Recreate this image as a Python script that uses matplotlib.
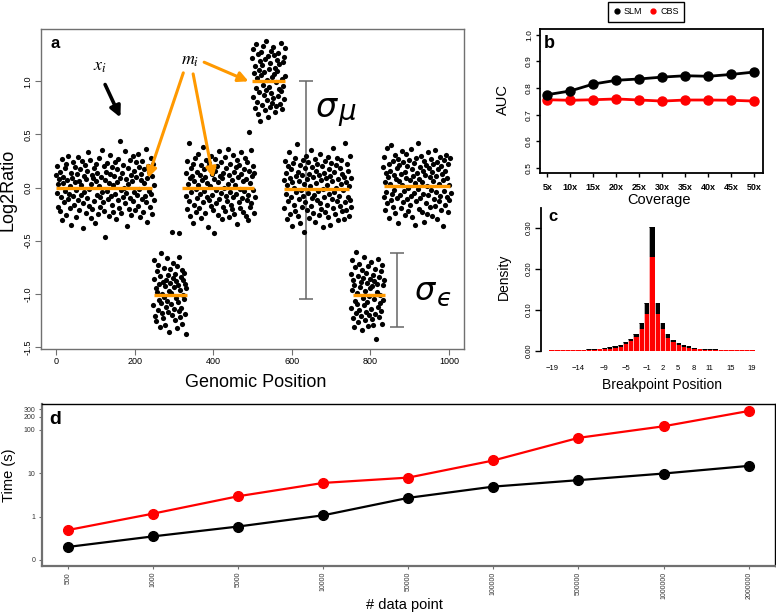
import numpy as np
import matplotlib.pyplot as plt
from matplotlib.lines import Line2D

plt.rcParams['font.family'] = ['Liberation Sans', 'DejaVu Sans']
plt.rcParams['axes.unicode_minus'] = False

# ---- panel a: segmented log2 ratios (deviations in 1/100 around segment mean)
seg_x_start = [0, 248, 330, 500, 580, 750, 832]
seg_x_end = [250, 332, 506, 583, 752, 834, 1004]
seg_mean = [0.0, -1.01, 0.0, 1.0, -0.01, -1.01, 0.01]
line_start = [0, 250, 320, 500, 580, 756, 834]
line_end = [244, 333, 505, 584, 745, 836, 1002]

seg1_dev = [12, -5, 20, -18, 3, 8, -22, 15, -9, 27, -31, 4, 10, -14, 18, -3, 22, -26, 7, -11,
            30, -6, 1, -19, 14, -35, 9, 24, -8, -16, 5, 19, -2, -28, 13, 29, -12, 6, -21, 17,
            -7, 2, 25, -15, -38, 11, -4, 21, -24, 8, 16, -10, 33, -1, -17, 26, -29, 3, 12, -20,
            9, -13, 18, -33, 6, 22, -7, 14, -25, 1, 28, -9, -18, 10, 35, -4, -14, 20, -22, 7,
            -47, 15, -3, 23, -11, 4, -27, 13, 31, -8, -16, 19, 2, -23, 11, 24, -6, -30, 17, 5,
            -12, 27, -19, 9, 44, -2, -24, 14, -9, 21, 0, -15, 34, -5, 8, -36, 18, 3, -20, 26,
            -10, 12, -26, 6, 30, -13, 16, -4, -21, 24, 10, -7, 32, -17, -1, 19, -28, 13, 7, -11,
            25, -23, 4, 17, -8, 36, -14, 9, -32, 20, -3, 15, -18, 28, -6, 11, -25, 22, 2, -12]
seg2_dev = [-10, 15, 33, -20, 6, -25, 22, 3, -14, 28, -5, 10, -30, 18, -8, 39, -17, 1, 12, -22,
            25, -2, 8, -28, 14, -11, 35, -6, 19, -16, 4, -35, 11, 24, -9, 2, -19, 16, 30, -13,
            7, -24, 20, -3, 13, -31, 27, -7, 9, -15, 36, -21, 5, 17, -12, 23, -27, 0, 14, -4,
            21, -18, 10, -37, 6]
seg3_dev = [14, -8, 25, -20, 3, 42, -13, 9, -27, 18, -4, 11, -33, 22, 6, -16, 28, -1, -23, 15,
            -10, 32, 2, -19, 12, -6, 21, -29, 7, 38, -14, 17, -3, -24, 10, 26, -9, 4, -37, 19,
            -12, 23, 1, -17, 30, -7, 13, -21, 8, -43, 16, 27, -2, -15, 20, -26, 5, 34, -11, 11,
            -5, 24, -30, 9, -18, 14, 0, -22, 29, -8, 18, -13, 3, 36, -28, 12, -4, 22, -16, 7,
            -20, 31, -9, 15, -25, 2, 19, -6, -34, 26, 10, -14, 21, -1, -19, 13, 33, -10, 6, -23,
            17, -3, 28, -27, 8, -12, 24, -7, -31, 16, 4, -18, 35, -15, 11, -2, 20, -24, 14, -9]
seg4_dev = [22, -15, 30, 8, -25, 14, -6, 35, -19, 3, 26, -31, 11, -10, 19, -37, 6, 28, -22, 15,
            -3, 33, -13, 9, -27, 21, -8, 38, 1, -18, 24, -34, 12, -5, 17, -24, 29, -11, 4, -20,
            32, -16, 7, 25, -29, 13, -1, -23, 20, 10, -14, 27, -7, 16, -21, 36, -9, 2, -26, 18,
            -4, 23, -17, 5, 31]
seg5_dev = [8, -18, 26, -5, 15, -29, 3, 21, -12, 34, -24, 10, -8, 18, -35, 6, 24, -15, 1, 29,
            -21, 12, -3, 42, -26, 16, -10, 7, -32, 22, -1, 13, -17, 27, -7, 4, -41, 19, -13, 31,
            -20, 9, 25, -4, -28, 14, 2, -16, 36, -9, 20, -23, 11, -6, 28, -31, 5, 17, -11, 23,
            -2, -25, 13, 33, -14, 8, -19, 21, 0, -36, 15, -8, 26, -22, 10, 3, -15, 30, -27, 18,
            -5, 12, -34, 24, -10, 7, -18, 38, -3, 16, -24, 1, 22, -12, 29, -30, 9, -7, 19, -16,
            4, 27, -21, 14, -1, -29, 11, 43, -13, 6, -20, 23, -8, 17, -26, 2, 31, -11, 10, -17]
seg6_dev = [20, -12, 33, 5, -22, 14, -30, 9, -6, 26, -17, 40, -9, 2, -26, 18, 29, -14, 7, -20,
            12, -33, 23, -3, 16, -10, 36, -24, 4, -16, 21, -7, 11, -29, 27, -1, -19, 15, 6, -13,
            31, -23, 8, -28, 19, -4, 13, -18, 24, -42, 10, 3, -11, 34, -21, 17, -8, 0, 22, -15,
            28, -27, 9, -5, 14]
seg7_dev = [18, -10, 28, 4, -22, 13, -5, 36, -16, 9, 21, -30, 2, 15, -13, 39, -7, 24, -19, 11,
            -3, 30, -25, 7, 17, -11, 26, -34, 5, 20, -8, 12, -20, 33, 1, -15, 23, -4, 14, -27,
            8, 31, -12, 19, -1, -23, 25, 6, -17, 35, -9, 16, -29, 10, 22, -6, 3, -36, 27, -14,
            13, -2, 41, -21, 7, 18, -11, 29, -24, 4, 15, -7, 24, -33, 11, -16, 20, 0, -26, 32,
            -8, 17, 9, -19, 26, -3, 14, -28, 21, 5, -12, 34, -18, 10, -5, 23, -31, 16, 2, -14,
            28, -9, 19, -22, 12, 6, -37, 25, -4, 15, -17, 30, -10, 8, -24, 21, 1, -13, 27, -6]
extra_x = [295, 314, 490]
extra_y = [-0.42, -0.43, 0.52]

# ---- panel b: AUC vs coverage
coverage = ['5x', '10x', '15x', '20x', '25x', '30x', '35x', '40x', '45x', '50x']
auc_slm = [0.775, 0.789, 0.815, 0.829, 0.834, 0.841, 0.846, 0.844, 0.851, 0.860]
auc_cbs = [0.756, 0.754, 0.756, 0.759, 0.755, 0.751, 0.755, 0.755, 0.754, 0.751]

# ---- panel c: breakpoint position density
bp_pos = list(range(-19, 20))
dens_slm = [0.002, 0.002, 0.002, 0.002, 0.003, 0.003, 0.003, 0.004, 0.004, 0.005,
            0.007, 0.009, 0.012, 0.015, 0.021, 0.030, 0.041, 0.068, 0.116, 0.303,
            0.117, 0.069, 0.041, 0.028, 0.019, 0.015, 0.012, 0.008, 0.006, 0.005,
            0.004, 0.004, 0.003, 0.003, 0.003, 0.002, 0.002, 0.002, 0.002]
dens_cbs = [0.002, 0.0015, 0.0015, 0.002, 0.002, 0.002, 0.0025, 0.003, 0.003, 0.004,
            0.005, 0.006, 0.008, 0.011, 0.016, 0.024, 0.033, 0.054, 0.090, 0.230,
            0.091, 0.053, 0.032, 0.021, 0.015, 0.011, 0.008, 0.006, 0.004, 0.003,
            0.003, 0.003, 0.0025, 0.002, 0.002, 0.0015, 0.0015, 0.002, 0.002]
bp_ticks = [-19, -14, -9, -5, -1, 2, 5, 8, 11, 15, 19]

# ---- panel d: run time
n_points = ['500', '1000', '5000', '10000', '50000', '100000', '500000', '1000000', '2000000']
time_slm = [0.20, 0.35, 0.59, 1.07, 2.7, 4.9, 6.9, 9.8, 14.7]
time_cbs = [0.49, 1.17, 2.94, 5.96, 7.9, 19.6, 65, 120, 270]

ORANGE = '#FF9900'
GREY = '#707070'

fig = plt.figure(figsize=(7.76, 6.14), dpi=100)

# ================= panel a
ax_a = fig.add_axes([0.0524, 0.4316, 0.5459, 0.5207])
devs = [seg1_dev, seg2_dev, seg3_dev, seg4_dev, seg5_dev, seg6_dev, seg7_dev]
for x0, x1, mu, dev in zip(seg_x_start, seg_x_end, seg_mean, devs):
    xs = np.linspace(x0, x1, len(dev))
    ys = mu + np.array(dev) / 100.0
    ax_a.scatter(xs, ys, s=14, color='black', linewidths=0, zorder=2)
ax_a.scatter(extra_x, extra_y, s=14, color='black', linewidths=0, zorder=2)
for x0, x1, mu in zip(line_start, line_end, seg_mean):
    ax_a.plot([x0, x1], [mu, mu], color=ORANGE, lw=2.4, solid_capstyle='butt', zorder=3)

ax_a.errorbar([637], [-0.025], yerr=[[1.025], [1.025]], color='#666666', lw=1.1,
              capsize=5, capthick=1.1, zorder=1)
ax_a.errorbar([868], [-0.965], yerr=[[0.345], [0.345]], color='#666666', lw=1.1,
              capsize=5, capthick=1.1, zorder=1)
ax_a.text(658, 0.74, r'$\sigma$', fontsize=24, ha='left', va='center')
ax_a.text(718, 0.68, r'$\mu$', fontsize=20, ha='left', va='center')
ax_a.text(910, -0.985, r'$\sigma$', fontsize=23, ha='left', va='center')
ax_a.text(966, -1.05, '$\u03f5$', fontsize=18, ha='left', va='center')

ax_a.text(112, 1.14, r'$x_i$', fontsize=13, ha='center', va='center', math_fontfamily='stix')
ax_a.text(342, 1.2, r'$m_i$', fontsize=13, ha='center', va='center', math_fontfamily='stix')
ax_a.annotate('', xy=(164, 0.66), xytext=(125, 0.97),
              arrowprops=dict(arrowstyle='-|>', color='black', lw=2.6,
                              mutation_scale=16, shrinkA=0, shrinkB=0))
for tail, head in [((324, 1.08), (234, 0.09)), ((349, 1.07), (400, 0.09)),
                   ((377, 1.18), (490, 1.0))]:
    ax_a.annotate('', xy=head, xytext=tail,
                  arrowprops=dict(arrowstyle='-|>', color=ORANGE, lw=2.2,
                                  mutation_scale=15, shrinkA=0, shrinkB=0))

ax_a.set_xlim(-39, 1039)
ax_a.set_ylim(-1.52, 1.49)
ax_a.set_xticks([0, 200, 400, 600, 800, 1000])
ax_a.set_yticks([-1.5, -1.0, -0.5, 0.0, 0.5, 1.0])
ax_a.set_yticklabels(['-1.5', '-1.0', '-0.5', '0.0', '0.5', '1.0'])
ax_a.tick_params(direction='out', length=4, width=0.8, color=GREY, labelsize=6.5, pad=2)
plt.setp(ax_a.get_yticklabels(), rotation=90, va='center')
for sp in ax_a.spines.values():
    sp.set_color(GREY)
    sp.set_linewidth(1.0)
ax_a.set_xlabel('Genomic Position', fontsize=13, va='center')
ax_a.set_ylabel('Log2Ratio', fontsize=13, va='center')
ax_a.xaxis.set_label_coords(0.508, -0.106)
ax_a.yaxis.set_label_coords(-0.078, 0.497)
ax_a.text(0.034, 0.954, 'a', transform=ax_a.transAxes, fontsize=12, fontweight='bold',
          ha='center', va='center')

# ================= panel b
ax_b = fig.add_axes([0.6959, 0.7177, 0.287, 0.2345])
xb = np.arange(len(coverage))
ax_b.plot(xb, auc_cbs, color='red', lw=2, marker='o', ms=6.5, zorder=2)
ax_b.plot(xb, auc_slm, color='black', lw=2, marker='o', ms=6.5, zorder=3)
ax_b.set_xlim(-0.32, 9.36)
ax_b.set_ylim(0.48, 1.02)
ax_b.set_xticks(xb)
ax_b.set_xticklabels(coverage, fontweight='bold')
ax_b.set_yticks([0.5, 0.6, 0.7, 0.8, 0.9, 1.0])
ax_b.set_yticklabels(['0.5', '0.6', '0.7', '0.8', '0.9', '1.0'])
ax_b.tick_params(axis='x', direction='out', length=3, width=1, labelsize=6.5, pad=4)
ax_b.tick_params(axis='y', direction='out', length=3, width=1, labelsize=6, pad=2)
plt.setp(ax_b.get_yticklabels(), rotation=90, va='center')
for sp in ax_b.spines.values():
    sp.set_linewidth(1.3)
ax_b.set_xlabel('Coverage', fontsize=10.5, va='center')
ax_b.set_ylabel('AUC', fontsize=10.5, va='center')
ax_b.xaxis.set_label_coords(0.534, -0.185)
ax_b.yaxis.set_label_coords(-0.166, 0.51)
ax_b.text(0.04, 0.905, 'b', transform=ax_b.transAxes, fontsize=13, fontweight='bold',
          ha='center', va='center')

handles = [Line2D([], [], marker='o', color='black', ls='none', ms=3.5),
           Line2D([], [], marker='o', color='red', ls='none', ms=3.5)]
fig.legend(handles, ['SLM', 'CBS'], loc='center', bbox_to_anchor=(646 / 776, 1 - 12 / 614),
           ncol=2, fontsize=6.5, frameon=True, fancybox=False, edgecolor='black',
           handlelength=0.8, handletextpad=0.4, columnspacing=0.8, borderpad=0.6,
           framealpha=1)

# ================= panel c
ax_c = fig.add_axes([0.6968, 0.4283, 0.2865, 0.2337])
ax_c.bar(bp_pos, dens_slm, width=1.0, color='black', linewidth=0)
ax_c.bar(bp_pos, dens_cbs, width=1.0, color='red', linewidth=0)
bounds = np.array(bp_pos[:-1]) + 0.5
sep_h = np.maximum(dens_slm[:-1], dens_slm[1:])
ax_c.vlines(bounds, 0, sep_h, colors='white', lw=0.5)
ax_c.set_xlim(-21.1, 21.1)
ax_c.set_ylim(0, 0.35)
ax_c.set_xticks(bp_ticks)
ax_c.set_xticklabels(['\u2212' + str(-t) if t < 0 else str(t) for t in bp_ticks])
ax_c.set_yticks([0.0, 0.1, 0.2, 0.3])
ax_c.set_yticklabels(['0.00', '0.10', '0.20', '0.30'])
ax_c.tick_params(axis='x', length=0, labelsize=5.5, pad=10)
ax_c.tick_params(axis='y', direction='out', length=4, width=1, labelsize=5.5, pad=2)
plt.setp(ax_c.get_yticklabels(), rotation=90, va='center')
for side in ['top', 'right', 'bottom']:
    ax_c.spines[side].set_visible(False)
ax_c.spines['left'].set_linewidth(1.3)
ax_c.set_xlabel('Breakpoint Position', fontsize=10, va='center')
ax_c.set_ylabel('Density', fontsize=10, va='center')
ax_c.xaxis.set_label_coords(0.546, -0.237)
ax_c.yaxis.set_label_coords(-0.165, 0.516)
ax_c.text(0.055, 0.94, 'c', transform=ax_c.transAxes, fontsize=12, fontweight='bold',
          ha='center', va='center')

# ================= panel d
ax_d = fig.add_axes([0.0537, 0.0787, 0.945, 0.2629])
xd = np.arange(len(n_points))
ax_d.plot(xd, time_slm, color='black', lw=1.6, marker='o', ms=7)
ax_d.plot(xd, time_cbs, color='red', lw=1.6, marker='o', ms=7)
ax_d.set_yscale('log')
ax_d.set_xlim(-0.31, 8.31)
ax_d.set_ylim(0.074, 386)
ax_d.set_yticks([0.1, 1, 10, 100, 200, 300])
ax_d.set_yticklabels(['0', '1', '10', '100', '200', '300'])
ax_d.yaxis.set_minor_locator(plt.NullLocator())
ax_d.set_xticks(xd)
ax_d.set_xticklabels(n_points, rotation=90)
ax_d.tick_params(direction='out', length=2.5, width=0.8, color=GREY, labelsize=5, pad=2,
                 labelcolor='#333333')
ax_d.spines['left'].set_color(GREY)
ax_d.spines['bottom'].set_color(GREY)
ax_d.spines['left'].set_linewidth(1.6)
ax_d.spines['bottom'].set_linewidth(1.6)
ax_d.spines['top'].set_linewidth(1.0)
ax_d.spines['right'].set_linewidth(1.0)
ax_d.set_xlabel('# data point', fontsize=10.5, va='center')
ax_d.set_ylabel('Time (s)', fontsize=10.5, va='center')
ax_d.xaxis.set_label_coords(0.495, -0.243)
ax_d.yaxis.set_label_coords(-0.045, 0.562)
ax_d.text(0.018, 0.903, 'd', transform=ax_d.transAxes, fontsize=14, fontweight='bold',
          ha='center', va='center')

fig.savefig('out.png', dpi=100)
